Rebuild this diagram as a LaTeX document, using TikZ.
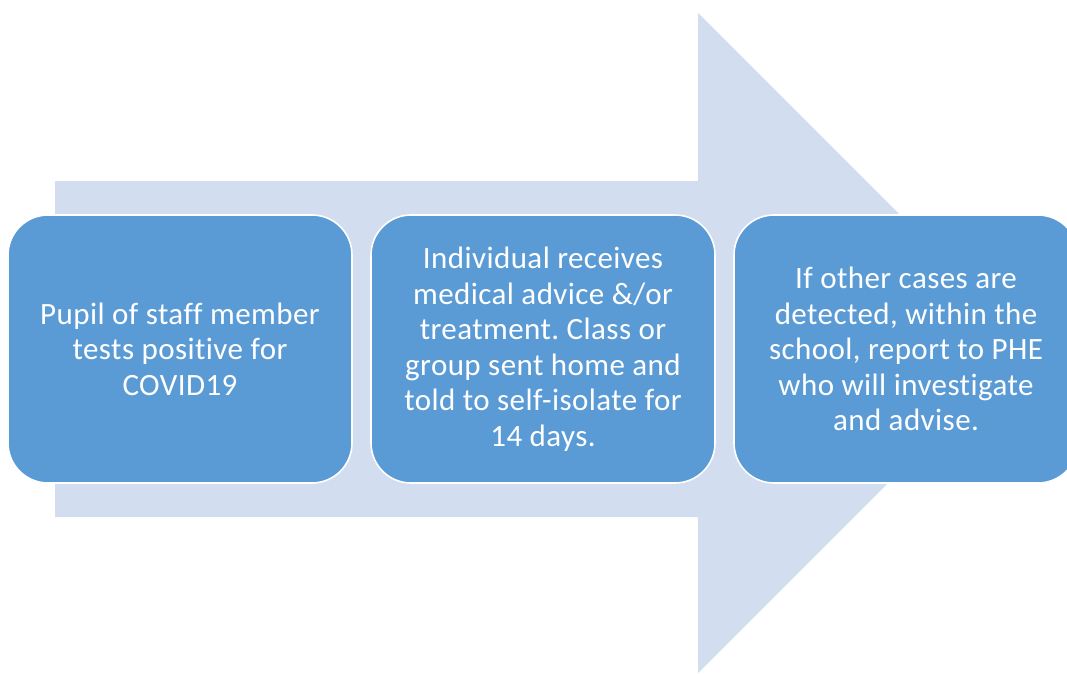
\documentclass[tikz,border=0pt]{standalone}
\usepackage{fontspec}
\setmainfont{Carlito}[LetterSpace=1.4,Ligatures=NoCommon]
\frenchspacing
\definecolor{arrowfill}{RGB}{210,222,239}
\definecolor{boxfill}{RGB}{91,155,213}
\tikzset{
  stepbox/.style={draw=white, line width=1.6pt, fill=boxfill, rounded corners=40pt,
    minimum width=344pt, minimum height=268pt, inner sep=0pt, outer sep=0pt,
    align=center, text=white, font=\fontsize{31}{35.5}\selectfont}
}
\begin{document}
\begin{tikzpicture}[x=1pt,y=-1pt]
\clip (0,0) rectangle (1067,673);
\fill[white] (0,0) rectangle (1067,673);
\fill[arrowfill] (55,181) -- (698,181) -- (698,13) -- (1028,343) -- (698,673) -- (698,517) -- (55,517) -- cycle;
\node[stepbox] (b1) at (180,349) {Pupil of staff member\\tests positive for\\COVID19};
\node[stepbox] (b2) at (543,349) {Individual receives\\medical advice \&/or\\treatment. Class or\\group sent home and\\told to self-isolate for\\14 days.};
\node[stepbox] (b3) at (906,349) {If other cases are\\detected, within the\\school, report to PHE\\who will investigate\\and advise.};
\end{tikzpicture}
\end{document}
